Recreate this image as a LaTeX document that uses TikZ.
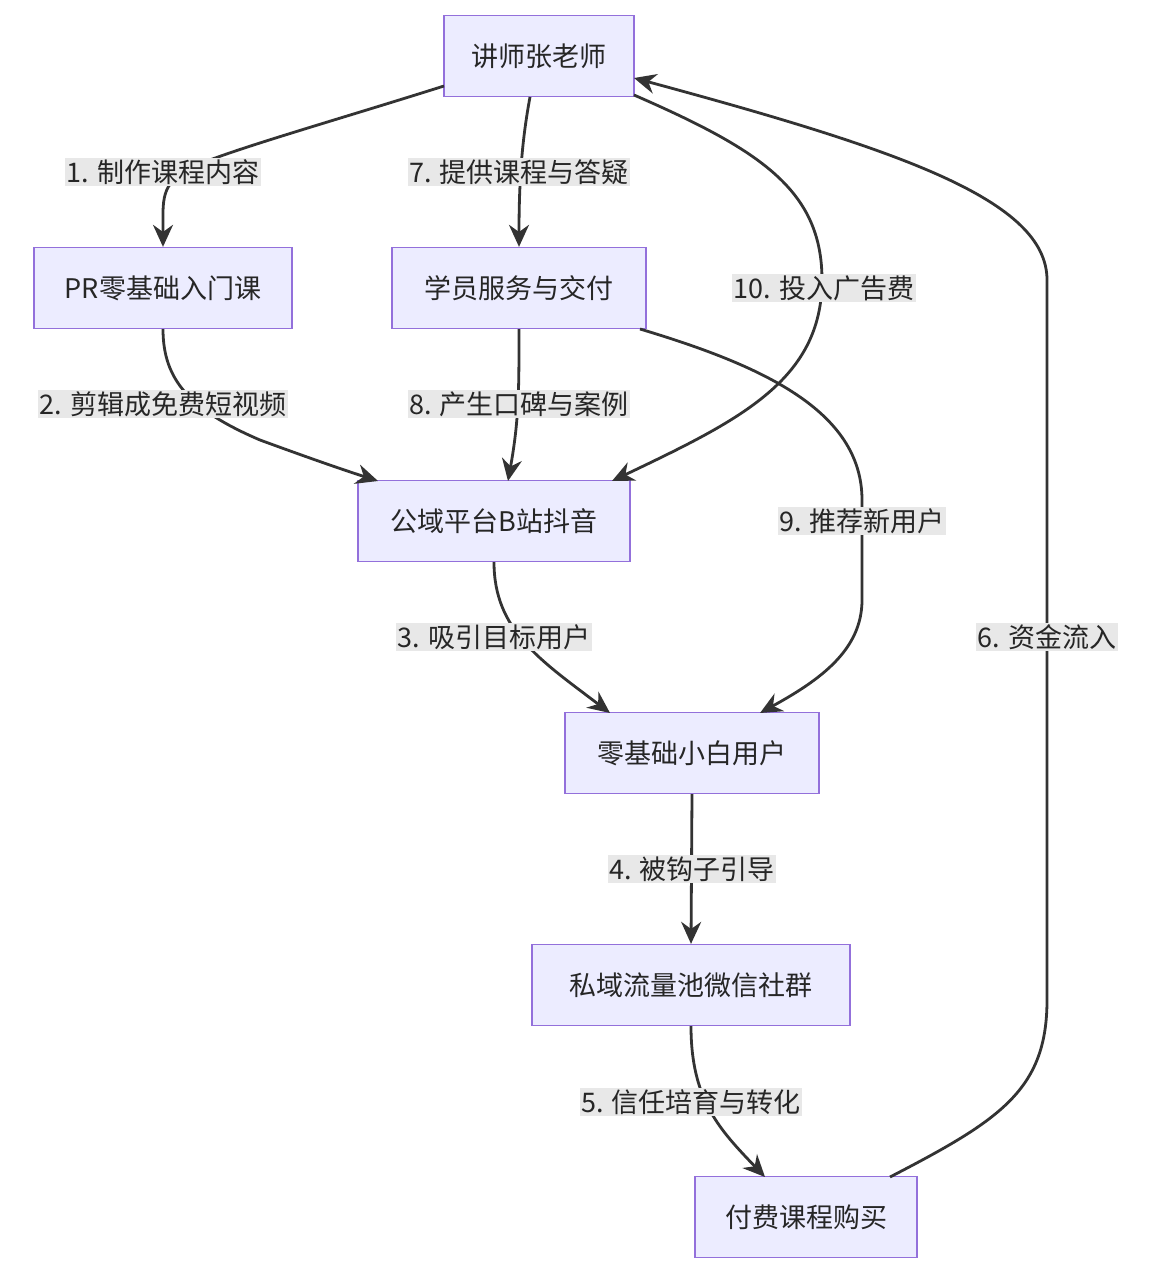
\documentclass[tikz,border=0pt]{standalone}
\usepackage{fontspec}
\setmainfont{Noto Sans CJK SC}
\usetikzlibrary{arrows.meta}
\begin{document}
\begin{tikzpicture}[x=1pt,y=-1pt,
 box/.style={draw=#1,fill=boxfill,line width=1.3pt,minimum height=81pt,inner xsep=14pt,font=\fontsize{27}{30}\selectfont,text=black!85},
 box/.default={boxline},
 lab/.style={fill=labfill,inner sep=1.5pt,font=\fontsize{27}{30}\selectfont,text=black!85},
 e/.style={draw=black!80,line width=2.8pt,-{Stealth[length=22pt,width=20pt]}},
 ne/.style={draw=black!80,line width=2.8pt}]
\definecolor{boxfill}{HTML}{ECECFF}
\definecolor{boxline}{HTML}{9370DB}
\definecolor{labfill}{HTML}{E8E8E8}
\useasboundingbox[fill=white] (0,0) rectangle (1148,1276);
\node[box,minimum width=190pt] (t) at (539,56) {讲师张老师};
\node[box,minimum width=258pt] (pr) at (163,288) {PR零基础入门课};
\node[box,minimum width=254pt] (xy) at (519,288) {学员服务与交付};
\node[box,minimum width=272pt] (gy) at (494,521) {公域平台B站抖音};
\node[box,minimum width=254pt] (xb) at (692,753) {零基础小白用户};
\node[box,minimum width=318pt] (sy) at (691,985) {私域流量池微信社群};
\node[box,minimum width=222pt] (ff) at (806,1217) {付费课程购买};
% edges
\draw[e] (444,86) .. controls (330,122) and (230,150) .. (190,168) .. controls (160,184) and (163,200) .. (pr.north);
\draw[e] (pr.south) .. controls (163,380) and (190,410) .. (260,440) .. controls (320,462) and (350,472) .. (378,481);
\draw[e] (530,97) .. controls (522,140) and (519,180) .. (xy.north);
\draw[e] (xy.south) .. controls (519,390) and (519,420) .. (508,481);
\draw[e] (640,329) .. controls (760,365) and (862,410) .. (862,500) -- (862,600) .. controls (862,650) and (820,680) .. (760,713);
\draw[e] (634,95) .. controls (760,150) and (822,190) .. (822,280) .. controls (822,380) and (740,420) .. (612,481);
\draw[e] (gy.south) ++(0,0) .. controls (494,630) and (540,660) .. (610,713);
\draw[e] (xb.south) -- (sy.north);
\draw[e] (sy.south) .. controls (691,1100) and (720,1130) .. (765,1177);
\draw[e] (890,1177) .. controls (1000,1120) and (1047,1090) .. (1047,1000) -- (1047,280) .. controls (1047,200) and (900,150) .. (634,78);
% labels
\node[lab] (l1) at (163,172) {1. 制作课程内容};
\node[lab] (l2) at (163,404) {2. 剪辑成免费短视频};
\node[lab] (l7) at (519,172) {7. 提供课程与答疑};
\node[lab] (l8) at (519,404) {8. 产生口碑与案例};
\node[lab] (l10) at (824,288) {10. 投入广告费};
\node[lab] (l9) at (862,521) {9. 推荐新用户};
\node[lab] (l3) at (494,637) {3. 吸引目标用户};
\node[lab] (l6) at (1047,637) {6. 资金流入};
\node[lab] (l4) at (692,869) {4. 被钩子引导};
\node[lab] (l5) at (691,1102) {5. 信任培育与转化};
\end{tikzpicture}
\end{document}
